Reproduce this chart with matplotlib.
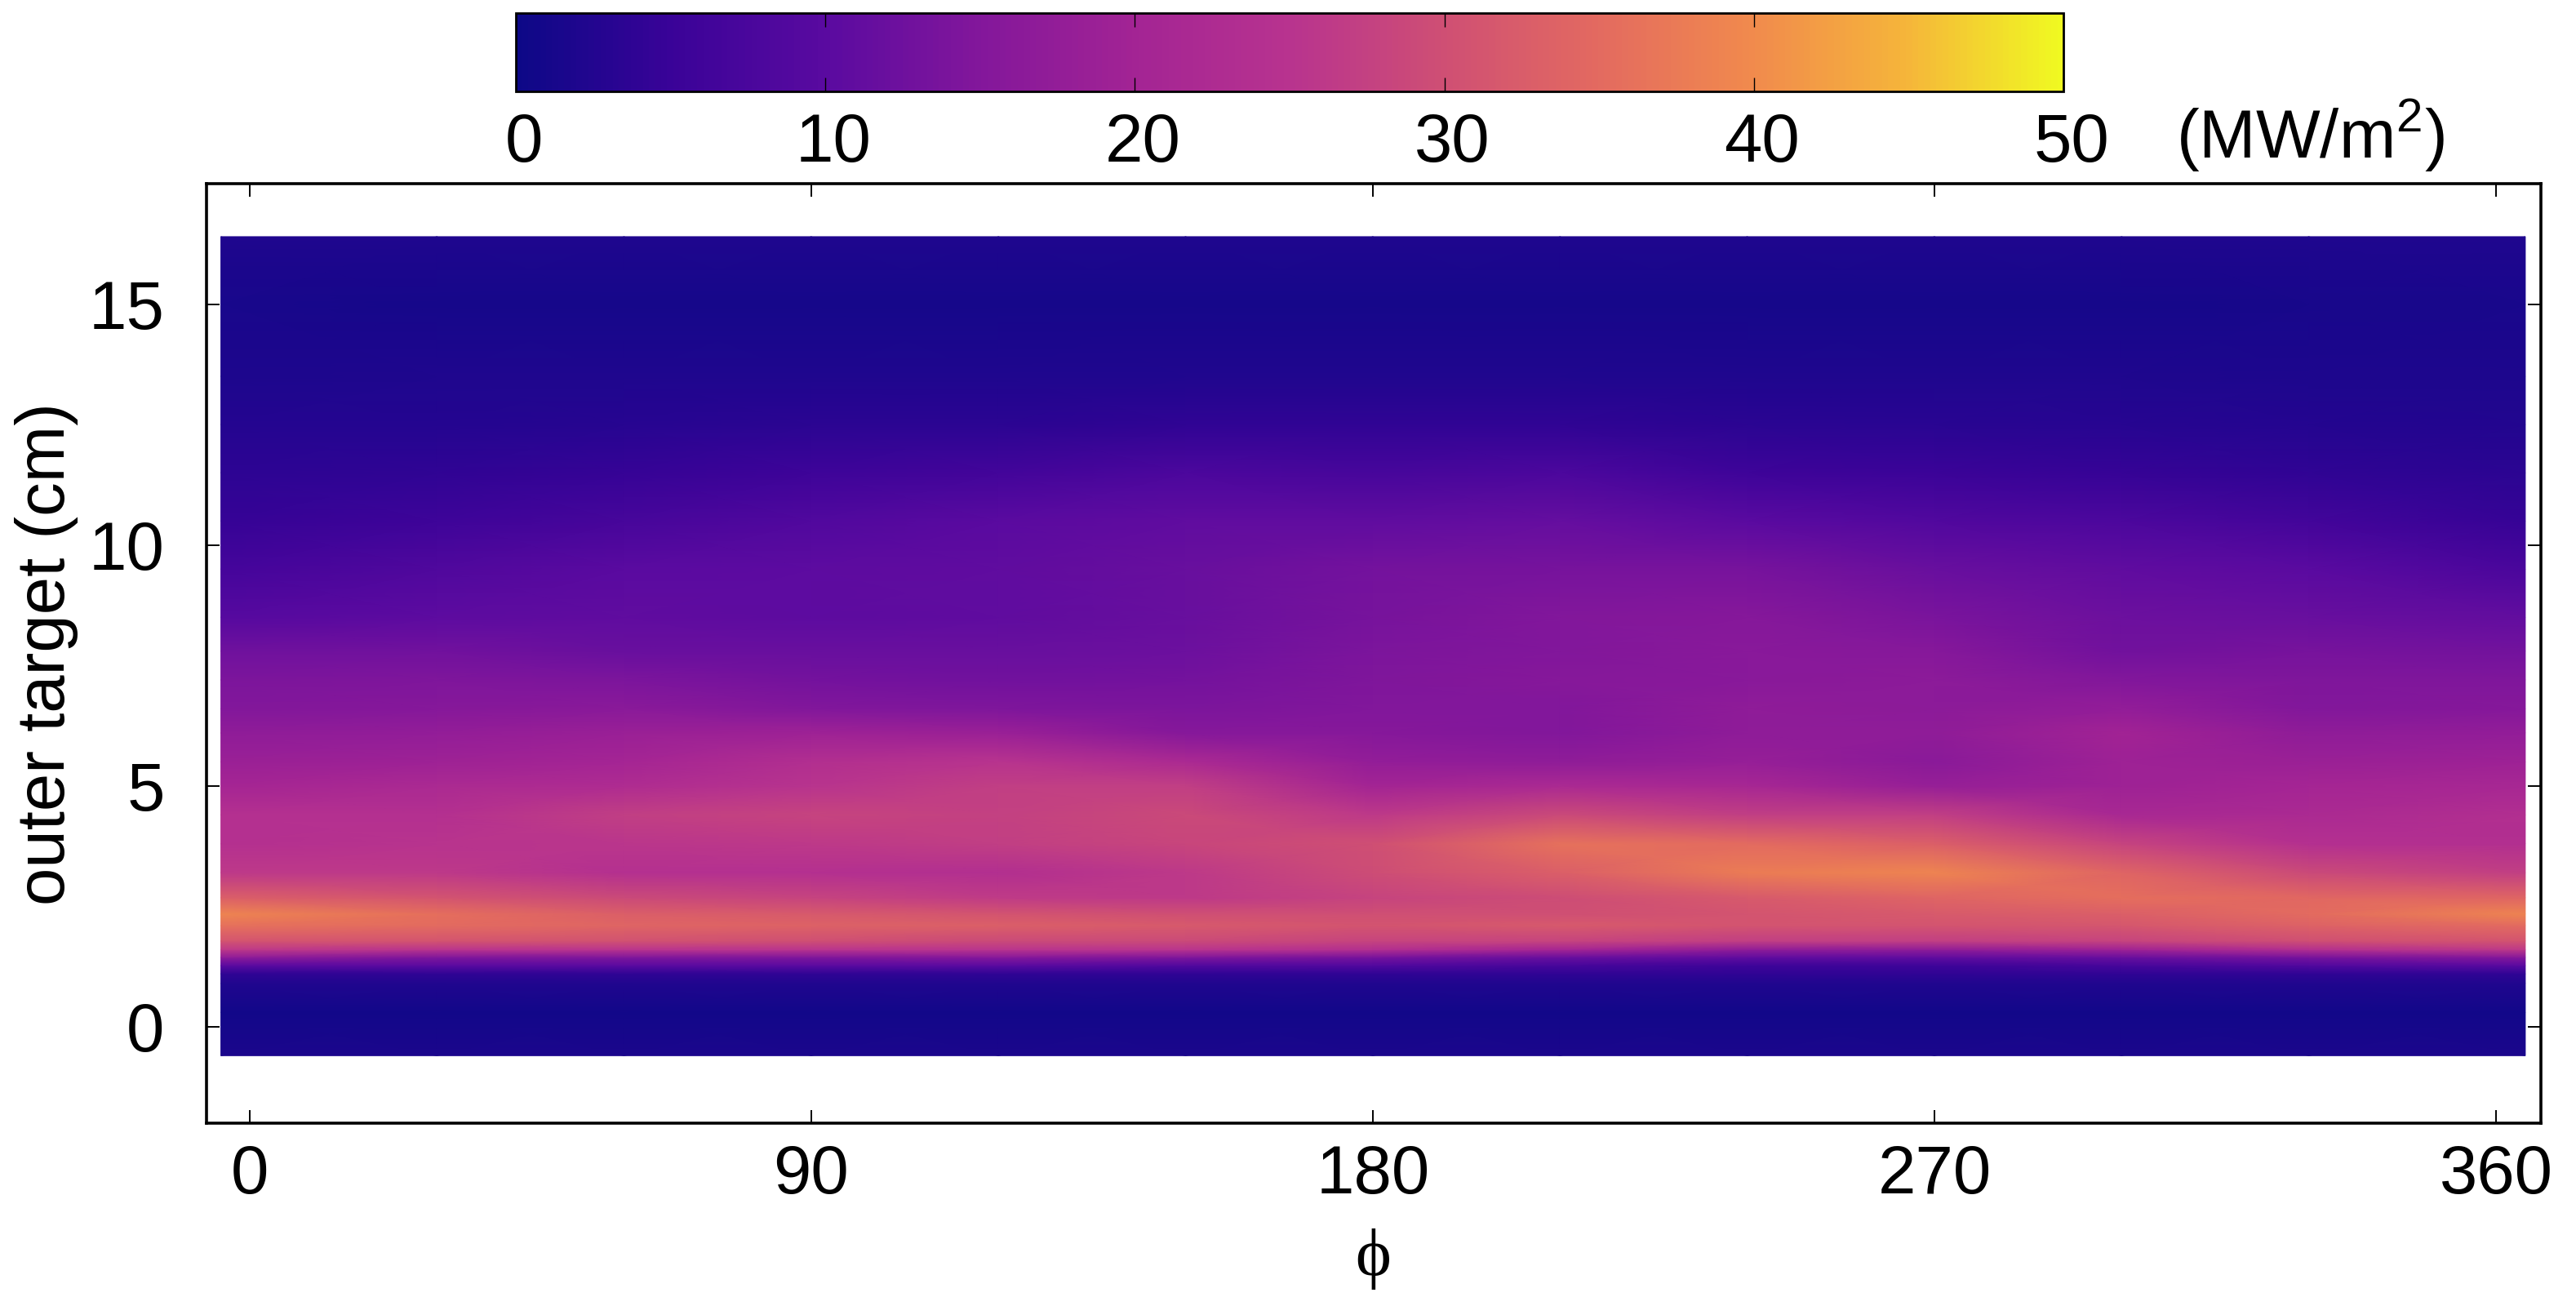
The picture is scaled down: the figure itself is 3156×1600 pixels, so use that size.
import numpy as np
import matplotlib
matplotlib.use("Agg")
import matplotlib.pyplot as plt
from matplotlib.cm import ScalarMappable
from matplotlib.colors import LinearSegmentedColormap, Normalize
from matplotlib.transforms import ScaledTranslation

plt.rcParams['font.family'] = ['Liberation Sans', 'DejaVu Sans']
plt.rcParams['mathtext.fontset'] = 'custom'
plt.rcParams['mathtext.rm'] = 'Liberation Sans'

# positions of the columns and rows
phi = [-4.6, 30, 60, 90, 120, 150, 180, 210, 240, 270, 300, 330, 364.7]
target_cm = [-0.6, 0.3, 0.9, 1.1, 1.27, 1.44, 1.6, 1.78, 2.1, 2.34, 2.68, 3.2, 3.8, 4.4,
             5, 5.5, 6.1, 6.6, 7.2, 7.8, 8.5, 9.5, 10.5, 11.5, 12.5, 13.5, 15, 16.4]

# heat flux (MW/m2) per phi column, bottom to top, estimated from the colours
q000 = [1.7, 0.7, 2.3, 4, 10, 16.8, 26, 31, 36.1, 38.9, 33, 26, 24.2, 24.2, 20.5, 18.6, 16.8, 15, 14.1, 12.6, 9.5, 6.8, 4.5, 3.6, 2.6, 1.9, 1.4, 2]
q030 = [1.7, 0.7, 2.3, 4, 10, 14.5, 25, 31, 35, 35.6, 31, 26, 25, 24.2, 22, 19.2, 17.4, 15.6, 14.5, 12.8, 10.5, 8.5, 5.8, 4, 2.7, 2, 1.1, 2]
q060 = [1.7, 0.7, 2.3, 4, 10, 14.5, 25, 30.5, 34, 33, 29, 24.2, 25.5, 27, 22.7, 20.5, 18.6, 16.2, 14.1, 11.8, 10.9, 10, 7.2, 4.5, 3, 2, 1.1, 2]
q090 = [1.7, 0.7, 2.3, 4, 10, 14.5, 25, 30, 33.5, 32, 28, 24.2, 26, 28, 25, 23.5, 19.2, 15, 13.2, 11.8, 10.5, 10.5, 8.6, 5.8, 3.4, 2, 1.1, 2]
q120 = [1.7, 0.7, 2.3, 4, 10, 15.6, 25, 29, 33, 31, 26.5, 23.5, 27, 27.5, 27, 25, 18.6, 14.5, 12.7, 11.8, 10.9, 10.9, 10, 6.5, 3.4, 2, 1.1, 2]
q150 = [1.7, 0.7, 2.3, 4, 8.6, 14.5, 25, 29, 32, 30, 26, 26, 28.5, 29, 27, 22, 15.6, 14.1, 13.2, 12.3, 11.8, 11.8, 10.9, 7.9, 4, 2.3, 1.1, 2]
q180 = [1.7, 0.7, 2.3, 4, 8.6, 13.6, 23.5, 28, 31, 30, 28, 29.5, 30, 26, 20, 17.4, 15.6, 15, 14.5, 14.1, 13.6, 13.2, 10.9, 7.2, 4, 2.3, 1.1, 2]
q210 = [1.7, 0.7, 2.3, 4, 7.2, 11.8, 20.5, 28, 32, 30, 29.5, 33, 36, 29, 22, 16.8, 15, 15, 15.6, 15, 15, 13.6, 11.4, 7.9, 4, 2.3, 1.1, 2]
q240 = [1.7, 0.7, 2.3, 4, 5.8, 10.9, 16.8, 27, 31, 31, 32, 37.8, 35, 27, 21, 18, 16.8, 16.8, 16, 16, 15.5, 13.6, 10, 5.8, 3.4, 2, 1.1, 2]
q270 = [1.7, 0.7, 2.3, 4, 5.8, 10.9, 16.8, 27, 31, 32, 34, 38.9, 33, 27, 18, 16.2, 16.8, 16.5, 16.5, 15.5, 14, 11.8, 8.6, 5.1, 3.2, 2, 1.1, 2]
q300 = [1.7, 0.7, 2.3, 4, 7.2, 11.8, 19.2, 28, 31.5, 33, 35.6, 34, 28, 21.2, 19.2, 19.2, 19.8, 17.4, 15, 12.7, 12.3, 10.9, 7.9, 4.5, 3, 2, 1.1, 2]
q330 = [1.7, 0.7, 2.3, 4, 8.6, 13.6, 23.5, 30, 33.5, 35, 34.5, 29, 24.2, 22, 20.5, 18.6, 16.8, 15, 14.5, 13.6, 11.8, 10, 6.5, 4, 2.6, 1.9, 1.2, 2]
q360 = [1.7, 0.7, 2.3, 4, 10, 15.6, 26, 31, 35, 38.9, 34, 27, 23.5, 23.5, 21.2, 19.2, 17.4, 15.6, 14.5, 13, 11, 7.5, 4.5, 3.4, 2.5, 1.9, 1.4, 2]

flux = np.array([q000, q030, q060, q090, q120, q150, q180, q210, q240, q270, q300, q330, q360]).T

xticks = [0, 90, 180, 270, 360]
yticks = [0, 5, 10, 15]
cbar_ticks = [0, 10, 20, 30, 40, 50]

# palette, one colour every 5 MW/m2
palette = ['#0d0887', '#3a0398', '#5a0aa0', '#83179b', '#a32494', '#b8338f',
           '#cf4f74', '#e36a60', '#f18a4d', '#f5b53a', '#f0f921']

W, H = 3156, 1600
FS = 60

fig = plt.figure(figsize=(W / 100, H / 100), dpi=100)
ax = fig.add_axes([253 / W, 1 - 1376 / H, (3113 - 253) / W, (1376 - 225) / H])
cmap = LinearSegmentedColormap.from_list('flux', palette)
norm = Normalize(0, 50)
ax.pcolormesh(phi, target_cm, flux, cmap=cmap, norm=norm, shading='gouraud')

ax.set_xlim(-6.9, 367.2)
ax.set_ylim(-2, 17.5)
ax.set_xticks(xticks)
ax.set_yticks(yticks)
ax.set_axisbelow(True)
ax.tick_params(axis='both', which='major', direction='in', length=11.5, width=1.4,
               top=True, right=True, labelsize=FS)
ax.tick_params(axis='x', pad=18)
ax.tick_params(axis='y', pad=37)
for side in ax.spines:
    ax.spines[side].set_linewidth(2.6)

fig.text(57 / W, 1 - 801 / H, "outer target (cm)", fontsize=FS, rotation=90, ha='center', va='center')
fig.text(1682 / W, 1 - 1542 / H, "\u03d5", fontsize=FS, family=['Liberation Serif', 'DejaVu Serif'],
         ha='center', va='center')

# colour bar on top
cax = fig.add_axes([632 / W, 1 - 112 / H, (2528 - 632) / W, (112 - 16) / H])
cb = fig.colorbar(ScalarMappable(norm=norm, cmap=cmap), cax=cax, orientation='horizontal')
cb.set_ticks(cbar_ticks)
cb.ax.tick_params(direction='in', length=12, width=1, top=True, bottom=True, labelsize=FS, pad=18)
cb.outline.set_linewidth(2)
for lab in cb.ax.get_xticklabels():
    lab.set_transform(lab.get_transform() + ScaledTranslation(0.1, 0, fig.dpi_scale_trans))
fig.text(2830 / W, 1 - 166 / H, "(MW/m$^2$)", fontsize=FS, ha='center', va='center')

fig.savefig("out.png", dpi=100)
